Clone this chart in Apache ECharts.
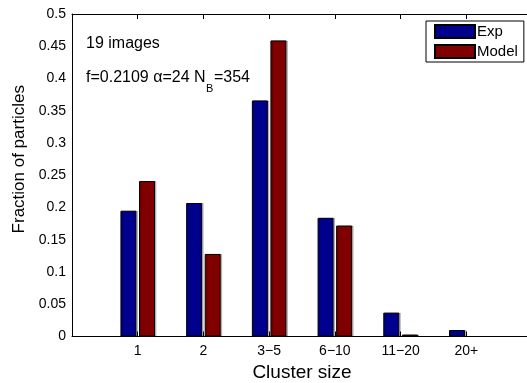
<!DOCTYPE html>
<html>
<head>
<meta charset="utf-8">
<style>
  html, body { margin: 0; padding: 0; background: #fff; overflow: hidden; }
  #chart { width: 527px; height: 383px; overflow: hidden; }
</style>
<script src="https://cdn.jsdelivr.net/npm/echarts@6/dist/echarts.min.js"></script>
</head>
<body>
<div id="chart"></div>
<script>
// Cluster size bins and the fraction of particles in each
const categories = ['1', '2', '3\u22125', '6\u221210', '11\u221220', '20+'];
const expValues = [0.195, 0.207, 0.366, 0.184, 0.037, 0.010];
const modelValues = [0.241, 0.128, 0.459, 0.172, 0.003, 0.0];
const yTicks = [0, 0.05, 0.1, 0.15, 0.2, 0.25, 0.3, 0.35, 0.4, 0.45, 0.5];

const FONT = '"Liberation Sans", Arial, Helvetica, sans-serif';
const NOTE_SIZE = 16;

// one empty slot on each side so the bins sit at 1..6 on a 0..7 span
const axisCats = [''].concat(categories, ['']);
// each value is placed at its bin index (1..6) on that padded axis
const atBins = arr => arr.map((v, i) => [i + 1, v]);

// width of a string in the annotation font, used to place the subscript
const measureCtx = document.createElement('canvas').getContext('2d');
function textWidth(str, size) {
  measureCtx.font = size + 'px ' + FONT;
  return measureCtx.measureText(str).width;
}

const chart = echarts.init(document.getElementById('chart'), null, { renderer: 'canvas' });

const tickFmt = v => {
  const n = Number(v);
  return yTicks.some(t => Math.abs(t - n) < 1e-9) ? String(+n.toFixed(2)) : '';
};

const noteX = 86;
const line2 = 'f=0.2109 \u03b1=24 N';
const subX = noteX + textWidth(line2, NOTE_SIZE) + 0.5;
const tailX = subX + textWidth('B', 11) + 0.5;

const barStyle = color => ({
  color: color,
  borderColor: '#000',
  borderWidth: 1,
  shadowColor: 'rgba(0,0,0,0.22)',
  shadowOffsetX: 1.5,
  shadowBlur: 0
});

chart.setOption({
  animation: false,
  backgroundColor: '#fff',
  textStyle: { fontFamily: FONT },
  grid: { show: false, left: 72, top: 14, width: 460, height: 322.5, containLabel: false, outerBoundsMode: 'none' },
  legend: {
    data: ['Exp', 'Model'],
    orient: 'vertical',
    left: 426,
    top: 21,
    padding: [3, 6, 3, 8],
    itemWidth: 40,
    itemHeight: 13,
    itemGap: 5,
    borderColor: '#000',
    borderWidth: 1,
    borderRadius: 0,
    backgroundColor: '#fff',
    icon: 'rect',
    textStyle: { fontFamily: FONT, fontSize: 15, color: '#000', padding: [0, 0, 0, -3] }
  },
  xAxis: [
    {
      type: 'category',
      data: axisCats,
      boundaryGap: false,
      name: 'Cluster size',
      nameLocation: 'middle',
      nameGap: 24,
      nameTextStyle: { fontFamily: FONT, fontSize: 19, color: '#000' },
      axisLine: { lineStyle: { color: '#000', width: 1 } },
      axisTick: { inside: true, length: 5, lineStyle: { color: '#000' } },
      axisLabel: { fontFamily: FONT, fontSize: 14, color: '#000', margin: 8, interval: 0 },
      splitLine: { show: false }
    },
    {
      type: 'category',
      data: axisCats,
      boundaryGap: false,
      position: 'top',
      axisLine: { onZero: false, lineStyle: { color: '#000', width: 1 } },
      axisTick: { inside: true, length: 5, lineStyle: { color: '#000' } },
      axisLabel: { show: false },
      splitLine: { show: false }
    }
  ],
  yAxis: {
    type: 'value',
    min: 0,
    max: 0.5,
    interval: 0.05,
    name: 'Fraction of particles',
    nameLocation: 'middle',
    nameGap: 41,
    nameTextStyle: { fontFamily: FONT, fontSize: 17, color: '#000', padding: [0, 0, 0, 32] },
    axisLine: { show: true, lineStyle: { color: '#000', width: 1 } },
    axisTick: { inside: true, length: 5, lineStyle: { color: '#000' } },
    axisLabel: { fontFamily: FONT, fontSize: 14, color: '#000', margin: 6, formatter: tickFmt },
    splitLine: { show: false }
  },
  series: [
    {
      name: 'Exp',
      type: 'bar',
      data: atBins(expValues),
      barWidth: 16,
      barGap: '16%',
      itemStyle: barStyle('#00008F')
    },
    {
      name: 'Model',
      type: 'bar',
      data: atBins(modelValues),
      barWidth: 16,
      barGap: '16%',
      itemStyle: barStyle('#800000')
    }
  ],
  graphic: [
    {
      type: 'text',
      left: noteX,
      top: 35.5,
      style: { text: '19 images', font: NOTE_SIZE + 'px ' + FONT, fill: '#000' }
    },
    {
      type: 'text',
      left: noteX,
      top: 69.5,
      style: { text: line2, font: NOTE_SIZE + 'px ' + FONT, fill: '#000' }
    },
    {
      type: 'text',
      left: subX,
      top: 83.5,
      style: { text: 'B', font: '11px ' + FONT, fill: '#000' }
    },
    {
      type: 'text',
      left: tailX,
      top: 69.5,
      style: { text: '=354', font: NOTE_SIZE + 'px ' + FONT, fill: '#000' }
    }
  ]
});
</script>
</body>
</html>
